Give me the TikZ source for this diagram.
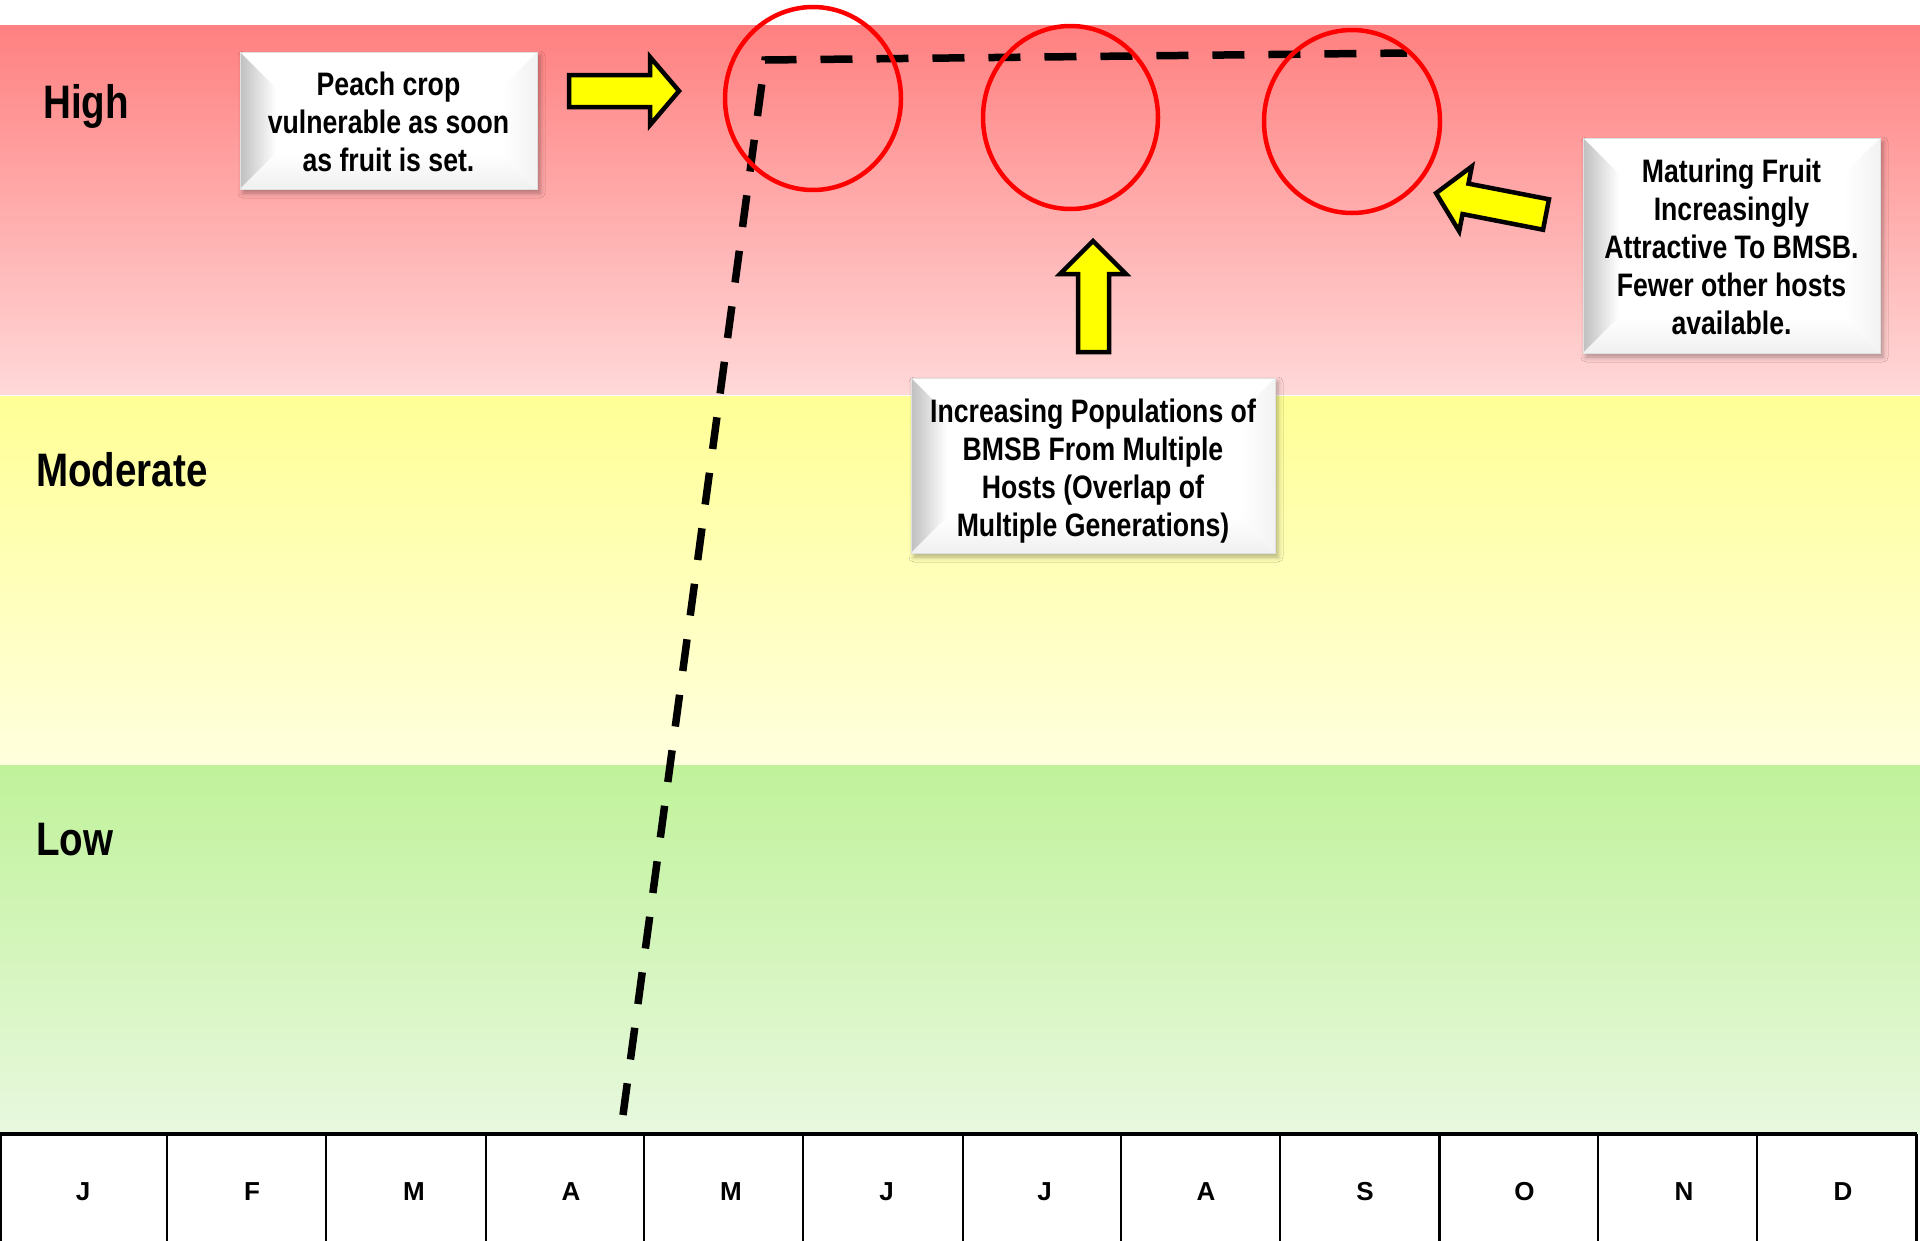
\documentclass[tikz,border=0pt]{standalone}
\usepackage{fontspec}
\setmainfont{Liberation Sans}[FakeStretch=0.82]
\newfontfamily\monthfont{Liberation Sans}
\usetikzlibrary{shadows.blur,shapes.geometric}

\definecolor{hiTop}{RGB}{255,128,128}
\definecolor{hiBot}{RGB}{255,216,216}
\definecolor{mdTop}{RGB}{255,255,150}
\definecolor{mdBot}{RGB}{255,255,222}
\definecolor{loTop}{RGB}{192,242,154}
\definecolor{loBot}{RGB}{232,248,222}
\definecolor{arrowYellow}{RGB}{255,255,0}
\definecolor{ringRed}{RGB}{255,0,0}

\tikzset{
  lvl/.style={anchor=base west, inner sep=0pt, font=\bfseries\fontsize{47}{56}\selectfont},
  boxtext/.style={align=center, inner sep=0pt, font=\bfseries\fontsize{32.5}{38}\selectfont},
  ring/.style={ellipse, draw=ringRed, line width=4.5pt, inner sep=0pt},
  yarrow/.style={fill=arrowYellow, draw=black, line width=4.5pt, line join=miter},
  trend/.style={draw=black, line width=7.5pt, dash pattern=on 32pt off 24pt, line join=miter},
  month/.style={anchor=base, inner sep=0pt, font=\monthfont\bfseries\fontsize{26}{30}\selectfont},
  gridline/.style={draw=black, line width=2.5pt},
}

% #1,#2 top-left; #3,#4 bottom-right; #5 name; #6 vertical text offset; #7 text
\newcommand{\BevBox}[7]{%
  \fill[white, blur shadow={shadow xshift=3pt, shadow yshift=-4pt, shadow blur radius=5pt, shadow opacity=32}] (#1,#2) rectangle (#3,#4);
  \shade[left color=black!25, right color=white] (#1,#2) -- (#1+36,#2+36) -- (#1+36,#4-36) -- (#1,#4) -- cycle;
  \shade[top color=white, bottom color=black!6] (#1,#4) -- (#1+36,#4-36) -- (#3-36,#4-36) -- (#3,#4) -- cycle;
  \shade[left color=white, right color=black!5] (#3,#2) -- (#3-36,#2+36) -- (#3-36,#4-36) -- (#3,#4) -- cycle;
  \draw[black!12, line width=1pt] (#1,#2) rectangle (#3,#4);
  \node[boxtext] (#5) at ({(#1+#3)/2},{(#2+#4)/2+#6}) {#7};
}

\begin{document}
\begin{tikzpicture}[x=1pt,y=-1pt]
\useasboundingbox (0,0) rectangle (1920,1240);
\fill[white] (0,0) rectangle (1920,1240);

% risk bands
\shade[top color=hiTop, bottom color=hiBot] (0,25) rectangle (1920,394);
\shade[top color=mdTop, bottom color=mdBot] (0,396) rectangle (1920,765);
\shade[top color=loTop, bottom color=loBot] (0,765) rectangle (1920,1133);

% level labels
\node[lvl] (high) at (43,118) {High};
\node[lvl] (moderate) at (36,486) {Moderate};
\node[lvl] (low) at (36,855) {Low};

% month table
\fill[white] (0,1134) rectangle (1920,1240);
\draw[gridline, line width=3.5pt] (0,1134) -- (1916.5,1134);
\foreach \bx in {1,167,326,486,644,803,963,1121,1280,1439.5,1598,1757,1916.5}
  \draw[gridline] (\bx,1134) -- (\bx,1245);
\node[month] (mJan) at (83,1200) {J};
\node[month] (mFeb) at (252,1200) {F};
\node[month] (mMar) at (414,1200) {M};
\node[month] (mApr) at (571,1200) {A};
\node[month] (mMay) at (731,1200) {M};
\node[month] (mJun) at (886.5,1200) {J};
\node[month] (mJul) at (1044.5,1200) {J};
\node[month] (mAug) at (1206,1200) {A};
\node[month] (mSep) at (1365,1200) {S};
\node[month] (mOct) at (1524.5,1200) {O};
\node[month] (mNov) at (1684,1200) {N};
\node[month] (mDec) at (1843,1200) {D};

% vulnerability trend line
\coordinate (trendStart) at (623,1115);
\coordinate (trendCorner) at (765,60);
\coordinate (trendEnd) at (1407,53);
\draw[trend] (trendStart) -- (trendCorner) -- (trendEnd);

% red rings
\node[ring, minimum width=176pt, minimum height=183pt] (ring1) at (813,98.5) {};
\node[ring, minimum width=175pt, minimum height=183pt] (ring2) at (1070.5,117.5) {};
\node[ring, minimum width=176pt, minimum height=183pt] (ring3) at (1352,121.5) {};

% yellow block arrows
\draw[yarrow] (569,75) -- (650,75) -- (650,57) -- (679,91) -- (650,125) -- (650,107) -- (569,107) -- cycle;
\draw[yarrow] (1078,352) -- (1078,274) -- (1060,274) -- (1093,241) -- (1126,274) -- (1109,274) -- (1109,352) -- cycle;
\begin{scope}[shift={(1546,214.5)}, rotate=169]
  \draw[yarrow] (0,-15.5) -- (82,-15.5) -- (82,-33) -- (112,0) -- (82,33) -- (82,15.5) -- (0,15.5) -- cycle;
\end{scope}

% callout boxes
\BevBox{240}{52}{537}{189}{peach}{1}{Peach crop\\vulnerable as soon\\as fruit is set.}
\BevBox{911}{378}{1275}{553}{pops}{6}{Increasing Populations of\\BMSB From Multiple\\Hosts (Overlap of\\Multiple Generations)}
\BevBox{1583}{138}{1880}{353}{mature}{1}{Maturing Fruit\\Increasingly\\Attractive To BMSB.\\Fewer other hosts\\available.}
\end{tikzpicture}
\end{document}
